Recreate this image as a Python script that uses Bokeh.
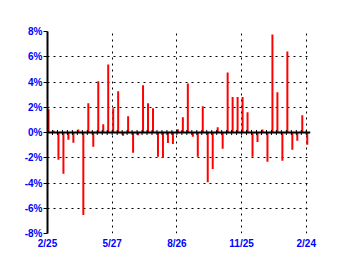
from bokeh.plotting import figure
from bokeh.models import FixedTicker, Span, Range1d, ColumnDataSource
from bokeh.embed import file_html
from bokeh.resources import INLINE

# Weekly % change, one bar per week from 2/25 to 2/24
values = [1.85, 0.16, -2.16, -3.26, -0.58, -0.82, 0.24, -6.53, 2.32, -1.13,
          4.05, 0.66, 5.39, 1.92, 3.26, -0.26, 1.29, -1.60, -0.21, 3.74,
          2.32, 1.92, -1.92, -2.00, -0.84, -0.92, 0.26, 1.21, 3.89, -0.34,
          -1.92, 2.08, -3.95, -2.89, 0.42, -1.29, 4.76, 2.82, 2.82, 2.82,
          1.61, -1.92, -0.76, 0.24, -2.32, 7.76, 3.18, -2.24, 6.42, -1.37,
          -0.66, 1.37, -0.97]
weeks = list(range(len(values)))
x_tick_positions = [0, 13, 26, 39, 52]
x_tick_labels = ["2/25", "5/27", "8/26", "11/25", "2/24"]
y_ticks = [-8, -6, -4, -2, 0, 2, 4, 6, 8]
y_tick_labels = ["-8%", "-6%", "-4%", "-2%", "0%", "2%", "4%", "6%", "8%"]

BLUE = "#0000ff"
FONT = "Liberation Sans"

p = figure(width=338, height=272, output_backend="svg", toolbar_location=None,
           x_range=Range1d(0, 52.85), y_range=Range1d(-8, 8),
           min_border_left=47, min_border_right=28, min_border_top=31,
           min_border_bottom=39)
p.outline_line_color = None
p.background_fill_color = "white"
p.border_fill_color = "white"

src = ColumnDataSource(dict(x=[w + 0.2 for w in weeks], top=values))
p.vbar(x="x", top="top", bottom=0, width=0.4, source=src,
       fill_color="#ff0000", line_color=None)

# zero line and its weekly tick marks
p.add_layout(Span(location=0, dimension="width", line_color="black", line_width=2))
p.segment(x0=weeks, y0=[-0.2] * len(weeks), x1=weeks, y1=[0.2] * len(weeks),
          line_color="black", line_width=1)

# axes
p.xaxis.ticker = FixedTicker(ticks=x_tick_positions)
p.xaxis.major_label_overrides = {t: l for t, l in zip(x_tick_positions, x_tick_labels)}
p.xaxis.axis_line_color = None
p.xaxis.major_tick_line_color = None
p.xaxis.minor_tick_line_color = None
p.xaxis.major_tick_out = 0
p.xaxis.major_tick_in = 0
p.xaxis.major_label_standoff = 4

p.yaxis.ticker = FixedTicker(ticks=y_ticks)
p.yaxis.major_label_overrides = {t: l for t, l in zip(y_ticks, y_tick_labels)}
p.yaxis.axis_line_color = "black"
p.yaxis.axis_line_width = 2
p.yaxis.major_tick_line_color = "black"
p.yaxis.major_tick_out = 4
p.yaxis.major_tick_in = 0
p.yaxis.minor_tick_line_color = None
p.yaxis.major_label_standoff = 1

for ax in (p.xaxis, p.yaxis):
    ax.major_label_text_font = FONT
    ax.major_label_text_font_style = "bold"
    ax.major_label_text_font_size = "10px"
    ax.major_label_text_color = BLUE

# dotted grids
p.ygrid.ticker = FixedTicker(ticks=[t for t in y_ticks if t != 0])
p.xgrid.ticker = FixedTicker(ticks=x_tick_positions[1:])
for g in (p.xgrid, p.ygrid):
    g.grid_line_color = "black"
    g.grid_line_dash = "2 4"
    g.grid_line_width = 1

open("out.html", "w").write(file_html(p, INLINE))
